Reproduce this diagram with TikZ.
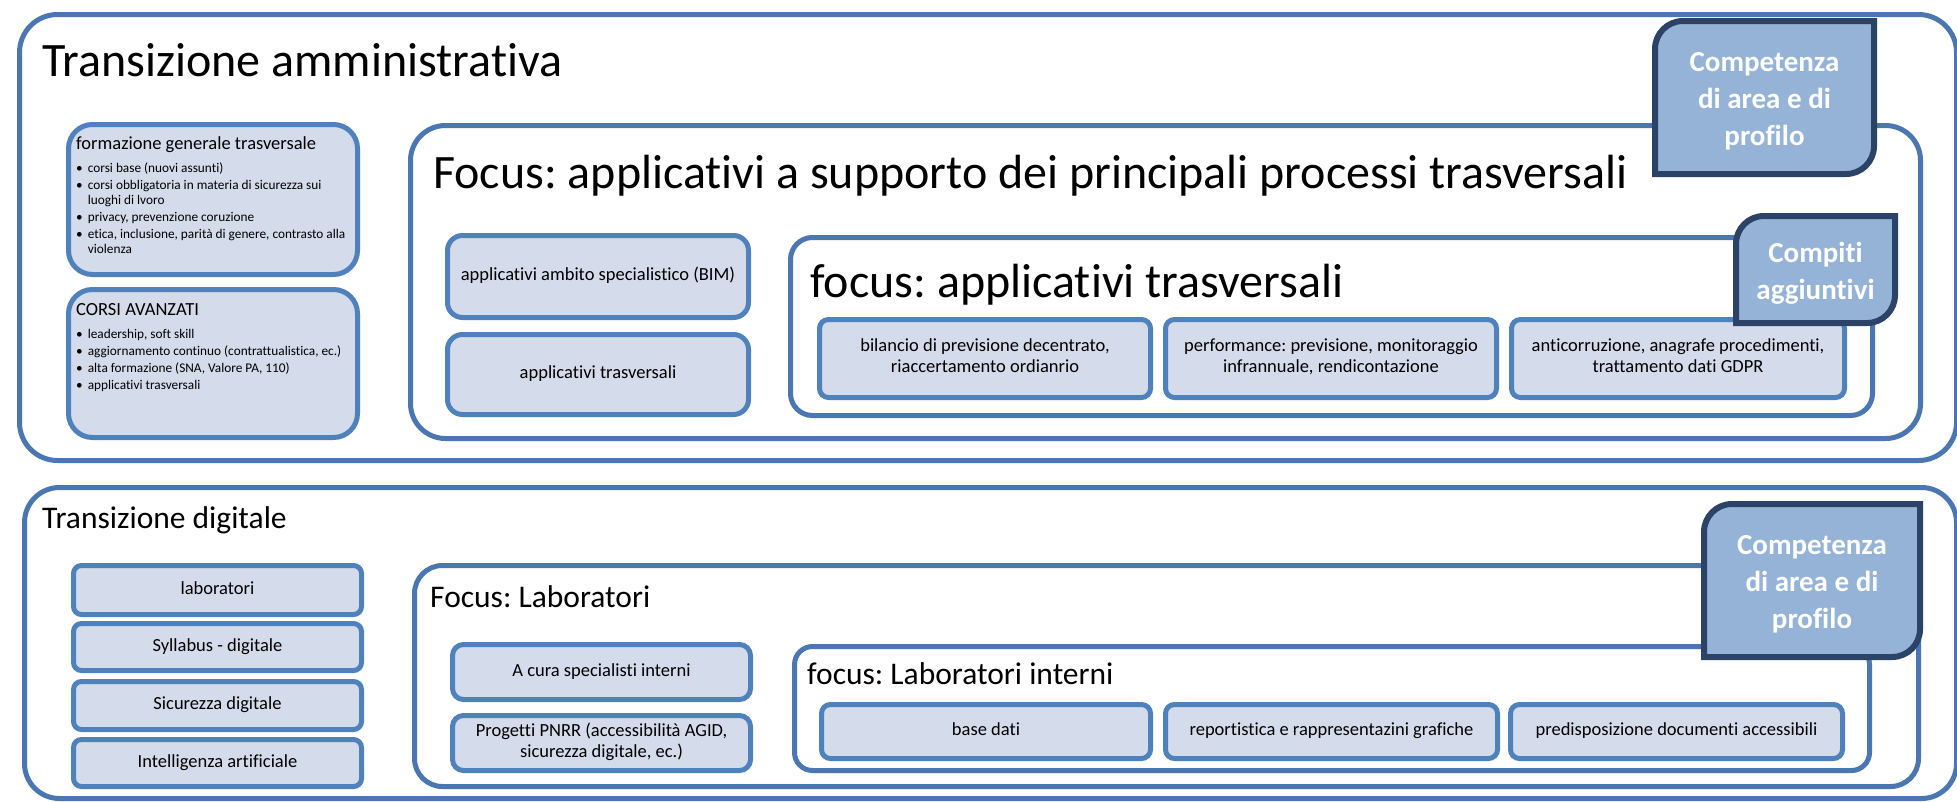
\documentclass[tikz,border=0pt]{standalone}
\usepackage{fontspec}
\setmainfont[Ligatures={NoCommon}]{Carlito}
\frenchspacing
\definecolor{bordblue}{HTML}{4F81BD}
\definecolor{outblue}{HTML}{4A77B1}
\definecolor{boxfill}{HTML}{D4DBEA}
\definecolor{callfill}{HTML}{95B3D7}
\definecolor{calldraw}{HTML}{2A4366}
\newcommand\boxfont{\fontsize{18.5}{21}\selectfont}
\newcommand\mkbox[7]{%
  \node[#1, minimum width={#5-#3-5}, minimum height={#6-#4-5}, inner sep=0pt] (#2) at ({(#3+#5)/2},{(#4+#6)/2}) {#7};}
\newcommand\mkcallout[6]{%
  \draw[callout] ({#2+3},{#5-3}) -- ({#2+3},{#3+31}) .. controls ({#2+3},{#3+15.5}) and ({#2+15.5},{#3+3}) .. ({#2+31},{#3+3}) -- ({#4-3},{#3+3}) -- ({#4-3},{#5-31}) .. controls ({#4-3},{#5-15.5}) and ({#4-15.5},{#5-3}) .. ({#4-31},{#5-3}) -- cycle;
  \node[callouttext] (#1) at ({(#2+#4)/2},{(#3+#5)/2+3.5}) {#6};}
\tikzset{
  whitebox/.style={draw=outblue, fill=white, line width=5pt, rounded corners=#1},
  bluebox/.style={draw=bordblue, fill=boxfill, line width=5pt, rounded corners=#1, align=center, font=\boxfont, execute at begin node=\strut, execute at end node=\strut},
  listbox/.style={draw=bordblue, fill=boxfill, line width=5pt, rounded corners=#1},
  titlebig/.style={anchor=base west, inner sep=0pt, font=\fontsize{48}{57}\selectfont},
  titlemid/.style={anchor=base west, inner sep=0pt, font=\fontsize{31.5}{38}\selectfont},
  listtitle/.style={anchor=base west, inner sep=0pt, font=\boxfont},
  listtext/.style={anchor=north west, inner sep=0pt, align=left, font=\fontsize{13.3}{15}\selectfont},
  callout/.style={draw=calldraw, fill=callfill, line width=6pt},
  callouttext/.style={align=center, text=white, inner sep=0pt, font=\bfseries\fontsize{29}{37}\selectfont},
}
\begin{document}
\begin{tikzpicture}[x=1pt,y=-1pt]
\useasboundingbox (0,0) rectangle (1957,801);
% ---------------- Transizione amministrativa ----------------
\mkbox{whitebox=38}{boxA}{17}{12}{1959}{463}{}
\node[titlebig] (tA) at (42,76) {Transizione amministrativa};
\mkbox{listbox=24}{f1}{66}{122}{360}{277}{}
\mkbox{listbox=24}{f2}{66}{287}{360}{440}{}
\node[listtitle] (f1t) at (76,149) {formazione generale trasversale};
\node[listtext] (f1l) at (76,161.5) {\begin{tabular}{@{}l@{\hspace{5pt}}l@{}}
\textbullet & corsi base (nuovi assunti)\\[2pt]
\textbullet & corsi obbligatoria in materia di sicurezza sui\\
 & luoghi di lvoro\\[2pt]
\textbullet & privacy, prevenzione coruzione\\[2pt]
\textbullet & etica, inclusione, parità di genere, contrasto alla\\
 & violenza
\end{tabular}};
\node[listtitle] (f2t) at (76,315) {CORSI AVANZATI};
\node[listtext] (f2l) at (76,327.5) {\begin{tabular}{@{}l@{\hspace{5pt}}l@{}}
\textbullet & leadership, soft skill\\[2pt]
\textbullet & aggiornamento continuo (contrattualistica, ec.)\\[2pt]
\textbullet & alta formazione (SNA, Valore PA, 110)\\[2pt]
\textbullet & applicativi trasversali
\end{tabular}};
\mkbox{whitebox=35}{focus1}{408}{123}{1923}{441}{}
\node[titlebig] (tF1) at (433,188) {Focus: applicativi a supporto dei principali processi trasversali};
\mkbox{bluebox=15}{bim}{445}{233}{751}{320}{applicativi ambito specialistico (BIM)}
\mkbox{bluebox=15}{appl}{445}{332}{751}{417}{applicativi trasversali}
\mkbox{whitebox=22}{focus2}{788}{235}{1875}{418}{}
\node[titlebig] (tF2) at (810,297) {focus: applicativi trasversali};
\mkbox{bluebox=9}{bil}{817}{317}{1153}{400}{bilancio di previsione decentrato,\\riaccertamento ordianrio}
\mkbox{bluebox=9}{perf}{1163}{317}{1499}{400}{performance: previsione, monitoraggio\\infrannuale, rendicontazione}
\mkbox{bluebox=9}{anti}{1509}{317}{1847}{400}{anticorruzione, anagrafe procedimenti,\\trattamento dati GDPR}
\mkcallout{comp1}{1652}{18}{1877}{177}{Competenza\\di area e di\\profilo}
\mkcallout{compiti}{1733}{213}{1898}{326}{Compiti\\aggiuntivi}
% ---------------- Transizione digitale ----------------
\mkbox{whitebox=35}{boxB}{22}{485}{1959}{801}{}
\node[titlemid] (tB) at (42,528) {Transizione digitale};
\mkbox{bluebox=8}{lab}{71}{563}{364}{617}{laboratori}
\mkbox{bluebox=8}{syl}{71}{621}{364}{673}{Syllabus - digitale}
\mkbox{bluebox=8}{sic}{71}{679}{364}{732}{Sicurezza digitale}
\mkbox{bluebox=8}{ia}{71}{737}{364}{789}{Intelligenza artificiale}
\mkbox{whitebox=28}{focus3}{412}{563}{1921}{789}{}
\node[titlemid] (tF3) at (430,607) {Focus: Laboratori};
\mkbox{bluebox=11}{cura}{450}{642}{753}{702}{A cura specialisti interni}
\mkbox{bluebox=11}{pnrr}{450}{713}{753}{773}{Progetti PNRR (accessibilità AGID,\\sicurezza digitale, ec.)}
\mkbox{whitebox=18}{focus4}{792}{644}{1872}{773}{}
\node[titlemid] (tF4) at (807,684) {focus: Laboratori interni};
\mkbox{bluebox=9}{bd}{819}{702}{1153}{761}{base dati}
\mkbox{bluebox=9}{rep}{1163}{702}{1500}{761}{reportistica e rappresentazini grafiche}
\mkbox{bluebox=9}{pred}{1508}{702}{1845}{761}{predisposizione documenti accessibili}
\mkcallout{comp2}{1701}{501}{1923}{660}{Competenza\\di area e di\\profilo}
\end{tikzpicture}
\end{document}
